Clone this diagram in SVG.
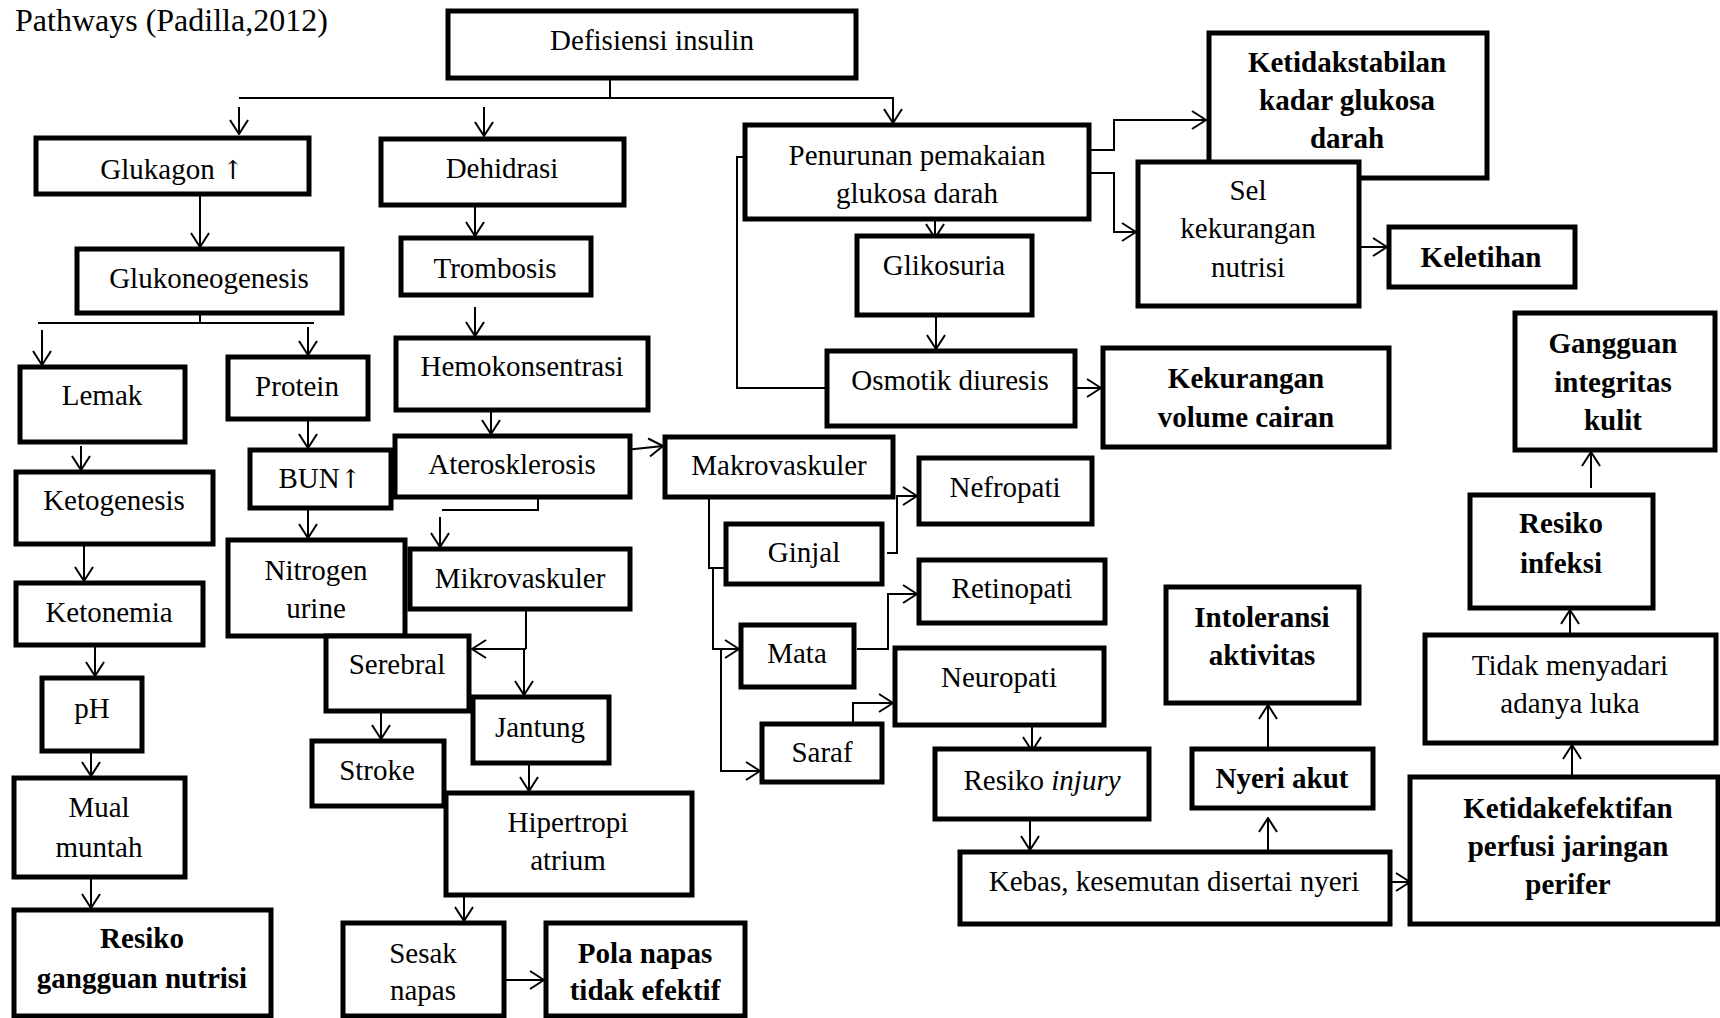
<svg xmlns="http://www.w3.org/2000/svg" width="1720" height="1018" viewBox="0 0 1720 1018">
<style>
.box{fill:#fff;stroke:#000;stroke-width:5}
.t{font-family:"Liberation Serif","Times New Roman",serif;font-size:29px;text-anchor:middle;fill:#000}
.b{font-weight:bold}
.up{font-family:"DejaVu Serif","DejaVu Sans",serif;font-size:26px}
.c{fill:none;stroke:#000;stroke-width:2}
.a{fill:none;stroke:#000;stroke-width:2;marker-end:url(#ah)}
</style>
<defs>
<marker id="ah" viewBox="0 0 16 20" refX="15" refY="10" markerWidth="16" markerHeight="20" markerUnits="userSpaceOnUse" orient="auto">
<path d="M1,1 L15,10 L1,19" fill="none" stroke="#000" stroke-width="2"/>
</marker>
</defs>
<rect width="1720" height="1018" fill="#fff"/>
<text x="15" y="31" font-family="Liberation Serif,Times New Roman,serif" font-size="32">Pathways (Padilla,2012)</text>

<g id="connectors">
<path class="a" d="M610,78 V98 M239,98 H893 V123"/>
<path class="a" d="M239,107 V134"/>
<path class="a" d="M484,107 V136"/>
<path class="a" d="M200,194 V247"/>
<path class="a" d="M475,205 V236"/>
<path class="c" d="M200,313 V323 M38,323 H314"/>
<path class="a" d="M42,330 V365"/>
<path class="a" d="M308,327 V355"/>
<path class="a" d="M475,307 V336"/>
<path class="a" d="M1085,150 H1114 V120 H1206"/>
<path class="a" d="M1085,173 H1114 V232 H1136"/>
<path class="a" d="M935,213 V238"/>
<path class="a" d="M936,315 V349"/>
<path class="c" d="M745,157 H737 V388 H827"/>
<path class="a" d="M1075,388 H1101"/>
<path class="a" d="M1351,247 H1387"/>
<path class="a" d="M81,446 V470"/>
<path class="a" d="M308,419 V448"/>
<path class="a" d="M491,403 V434"/>
<path class="a" d="M625,450 L663,446"/>
<path class="a" d="M538,497 V510 H442 M440,517 V547"/>
<path class="a" d="M84,545 V581"/>
<path class="a" d="M308,508 V538"/>
<path class="c" d="M709,497 V568 H726"/>
<path class="a" d="M713,568 V649 H739"/>
<path class="a" d="M721,650 V771 H760"/>
<path class="a" d="M887,553 H897 V496 H917"/>
<path class="a" d="M857,649 H888 V594 H917"/>
<path class="a" d="M853,723 V703 H893"/>
<path class="a" d="M1032,725 V751"/>
<path class="a" d="M1030,819 V850"/>
<path class="a" d="M1268,852 V818"/>
<path class="a" d="M1268,755 V705"/>
<path class="a" d="M1390,882 H1410"/>
<path class="a" d="M1572,777 V745"/>
<path class="a" d="M1570,635 V610"/>
<path class="a" d="M1591,488 V452"/>
<path class="a" d="M95,645 V676"/>
<path class="a" d="M91,751 V776"/>
<path class="a" d="M91,877 V908"/>
<path class="c" d="M526,609 V649"/>
<path class="a" d="M526,649 H472"/>
<path class="a" d="M524,649 V695"/>
<path class="a" d="M381,711 V739"/>
<path class="a" d="M529,763 V791"/>
<path class="a" d="M464,895 V921"/>
<path class="a" d="M500,980 H544"/>
</g>

<g id="n-defisiensi"><rect class="box" x="448" y="11" width="408" height="67"/><text class="t" x="652" y="50">Defisiensi insulin</text></g>
<g id="n-glukagon"><rect class="box" x="36" y="138" width="273" height="56"/><text class="t" x="172" y="179">Glukagon <tspan class="up">↑</tspan></text></g>
<g id="n-dehidrasi"><rect class="box" x="381" y="139" width="243" height="66"/><text class="t" x="502" y="178">Dehidrasi</text></g>
<g id="n-penurunan"><rect class="box" x="745" y="125" width="344" height="94"/><text class="t" x="917" y="165">Penurunan pemakaian</text><text class="t" x="917" y="203">glukosa darah</text></g>
<g id="n-ketidakstabilan"><rect class="box" x="1209" y="33" width="278" height="145"/><text class="t b" x="1347" y="72">Ketidakstabilan</text><text class="t b" x="1347" y="110">kadar glukosa</text><text class="t b" x="1347" y="148">darah</text></g>
<g id="n-sel"><rect class="box" x="1138" y="162" width="221" height="144"/><text class="t" x="1248" y="200">Sel</text><text class="t" x="1248" y="238">kekurangan</text><text class="t" x="1248" y="277">nutrisi</text></g>
<g id="n-keletihan"><rect class="box" x="1389" y="227" width="186" height="60"/><text class="t b" x="1481" y="267">Keletihan</text></g>
<g id="n-glukoneogenesis"><rect class="box" x="77" y="249" width="265" height="64"/><text class="t" x="209" y="288">Glukoneogenesis</text></g>
<g id="n-trombosis"><rect class="box" x="401" y="238" width="190" height="57"/><text class="t" x="495" y="278">Trombosis</text></g>
<g id="n-glikosuria"><rect class="box" x="857" y="236" width="175" height="79"/><text class="t" x="944" y="275">Glikosuria</text></g>
<g id="n-gangguan-integritas"><rect class="box" x="1515" y="313" width="200" height="137"/><text class="t b" x="1613" y="353">Gangguan</text><text class="t b" x="1613" y="392">integritas</text><text class="t b" x="1613" y="430">kulit</text></g>
<g id="n-lemak"><rect class="box" x="20" y="367" width="165" height="75"/><text class="t" x="102" y="405">Lemak</text></g>
<g id="n-protein"><rect class="box" x="228" y="357" width="140" height="62"/><text class="t" x="297" y="396">Protein</text></g>
<g id="n-hemokonsentrasi"><rect class="box" x="396" y="338" width="252" height="72"/><text class="t" x="522" y="376">Hemokonsentrasi</text></g>
<g id="n-osmotik"><rect class="box" x="827" y="351" width="248" height="75"/><text class="t" x="950" y="390">Osmotik diuresis</text></g>
<g id="n-kekurangan-volume"><rect class="box" x="1103" y="348" width="286" height="99"/><text class="t b" x="1246" y="388">Kekurangan</text><text class="t b" x="1246" y="427">volume cairan</text></g>
<g id="n-aterosklerosis"><rect class="box" x="395" y="436" width="235" height="61"/><text class="t" x="512" y="474">Aterosklerosis</text></g>
<g id="n-makrovaskuler"><rect class="box" x="665" y="437" width="228" height="60"/><text class="t" x="779" y="475">Makrovaskuler</text></g>
<g id="n-nefropati"><rect class="box" x="919" y="458" width="173" height="66"/><text class="t" x="1005" y="497">Nefropati</text></g>
<g id="n-ketogenesis"><rect class="box" x="16" y="472" width="197" height="72"/><text class="t" x="114" y="510">Ketogenesis</text></g>
<g id="n-bun"><rect class="box" x="250" y="450" width="141" height="58"/><text class="t" x="320" y="488">BUN<tspan class="up">↑</tspan></text></g>
<g id="n-resiko-infeksi"><rect class="box" x="1470" y="495" width="183" height="113"/><text class="t b" x="1561" y="533">Resiko</text><text class="t b" x="1561" y="573">infeksi</text></g>
<g id="n-ginjal"><rect class="box" x="726" y="524" width="156" height="60"/><text class="t" x="804" y="562">Ginjal</text></g>
<g id="n-nitrogen"><rect class="box" x="228" y="540" width="177" height="96"/><text class="t" x="316" y="580">Nitrogen</text><text class="t" x="316" y="618">urine</text></g>
<g id="n-mikrovaskuler"><rect class="box" x="410" y="549" width="220" height="60"/><text class="t" x="520" y="588">Mikrovaskuler</text></g>
<g id="n-retinopati"><rect class="box" x="919" y="560" width="186" height="63"/><text class="t" x="1012" y="598">Retinopati</text></g>
<g id="n-ketonemia"><rect class="box" x="16" y="583" width="187" height="62"/><text class="t" x="109" y="622">Ketonemia</text></g>
<g id="n-intoleransi"><rect class="box" x="1166" y="587" width="193" height="116"/><text class="t b" x="1262" y="627">Intoleransi</text><text class="t b" x="1262" y="665">aktivitas</text></g>
<g id="n-mata"><rect class="box" x="741" y="625" width="113" height="62"/><text class="t" x="797" y="663">Mata</text></g>
<g id="n-tidak-menyadari"><rect class="box" x="1425" y="635" width="291" height="108"/><text class="t" x="1570" y="675">Tidak menyadari</text><text class="t" x="1570" y="713">adanya luka</text></g>
<g id="n-serebral"><rect class="box" x="326" y="636" width="143" height="75"/><text class="t" x="397" y="674">Serebral</text></g>
<g id="n-neuropati"><rect class="box" x="895" y="648" width="209" height="77"/><text class="t" x="999" y="687">Neuropati</text></g>
<g id="n-ph"><rect class="box" x="42" y="678" width="100" height="73"/><text class="t" x="92" y="718">pH</text></g>
<g id="n-jantung"><rect class="box" x="473" y="697" width="136" height="66"/><text class="t" x="540" y="737">Jantung</text></g>
<g id="n-stroke"><rect class="box" x="312" y="741" width="132" height="65"/><text class="t" x="377" y="780">Stroke</text></g>
<g id="n-saraf"><rect class="box" x="762" y="724" width="120" height="58"/><text class="t" x="822" y="762">Saraf</text></g>
<g id="n-resiko-injury"><rect class="box" x="935" y="749" width="214" height="70"/><text class="t" x="1042" y="790">Resiko <tspan font-style="italic">injury</tspan></text></g>
<g id="n-nyeri-akut"><rect class="box" x="1192" y="749" width="181" height="59"/><text class="t b" x="1282" y="788">Nyeri akut</text></g>
<g id="n-ketidakefektifan"><rect class="box" x="1410" y="777" width="308" height="147"/><text class="t b" x="1568" y="818">Ketidakefektifan</text><text class="t b" x="1568" y="856">perfusi jaringan</text><text class="t b" x="1568" y="894">perifer</text></g>
<g id="n-kebas"><rect class="box" x="960" y="852" width="430" height="72"/><text class="t" x="1174" y="891">Kebas, kesemutan disertai nyeri</text></g>
<g id="n-mual"><rect class="box" x="14" y="778" width="171" height="99"/><text class="t" x="99" y="817">Mual</text><text class="t" x="99" y="857">muntah</text></g>
<g id="n-hipertropi"><rect class="box" x="446" y="793" width="246" height="102"/><text class="t" x="568" y="832">Hipertropi</text><text class="t" x="568" y="870">atrium</text></g>
<g id="n-resiko-gangguan"><rect class="box" x="14" y="910" width="257" height="106"/><text class="t b" x="142" y="948">Resiko</text><text class="t b" x="142" y="988">gangguan nutrisi</text></g>
<g id="n-sesak"><rect class="box" x="343" y="923" width="161" height="93"/><text class="t" x="423" y="963">Sesak</text><text class="t" x="423" y="1000">napas</text></g>
<g id="n-pola"><rect class="box" x="546" y="923" width="199" height="93"/><text class="t b" x="645" y="963">Pola napas</text><text class="t b" x="645" y="1000">tidak efektif</text></g>
</svg>
